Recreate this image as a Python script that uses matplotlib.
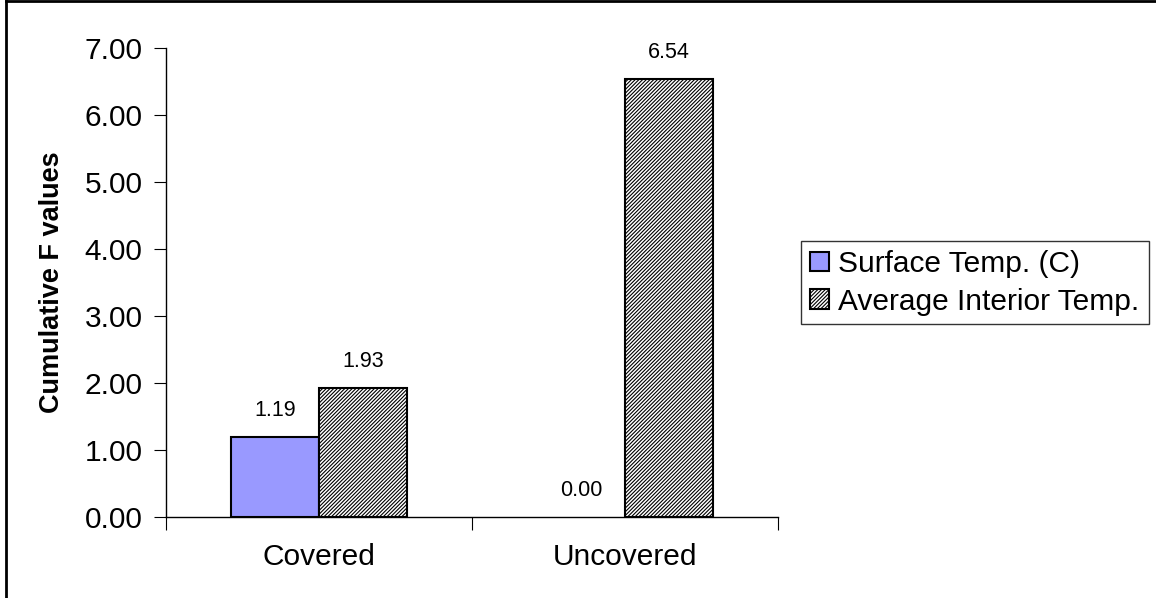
import matplotlib
matplotlib.use("Agg")
import matplotlib.pyplot as plt
from matplotlib.lines import Line2D
from matplotlib.patches import Patch
import numpy as np

plt.rcParams['font.family'] = ['Liberation Sans', 'DejaVu Sans']
plt.rcParams['hatch.color'] = '#505050'
plt.rcParams['hatch.linewidth'] = 0.8

categories = ["Covered", "Uncovered"]
series_names = ["Surface Temp. (C)", "Average Interior Temp."]
surface = [1.19, 0.00]
interior = [1.93, 6.54]
yticks = [0, 1, 2, 3, 4, 5, 6, 7]

HATCH = '/////////'

fig = plt.figure(figsize=(11.56, 5.98), dpi=100)
ax = fig.add_axes([166/1156, 1-517/598, (778-166)/1156, (517-48)/598])

x = np.arange(len(categories))
w = 88/306
b1 = ax.bar(x - w/2, surface, w, color='#9999FF', edgecolor='black', linewidth=1.5, label=series_names[0])
b2 = ax.bar(x + w/2, interior, w, color='white', edgecolor='black', linewidth=1.5, hatch=HATCH, label=series_names[1])
for bars in (b1, b2):
    for r in bars:
        if r.get_height() == 0:
            r.set_linewidth(0)

for xi, v in zip(x - w/2, surface):
    ax.annotate(f"{v:.2f}", (xi, v), xytext=(0, 19), textcoords='offset points', ha='center', va='center', fontsize=15.5)
for xi, v in zip(x + w/2, interior):
    ax.annotate(f"{v:.2f}", (xi, v), xytext=(0, 19), textcoords='offset points', ha='center', va='center', fontsize=15.5)

ax.set_xlim(-0.5, 1.5)
ax.set_ylim(0, 7)
ax.set_yticks(yticks)
ax.set_yticklabels([f"{t:.2f}" for t in yticks], fontsize=21.5)
ax.set_xticks([-0.5, 0.5, 1.5])
ax.set_xticks(x, minor=True)
ax.set_xticklabels([])
ax.set_xticklabels(categories, minor=True, fontsize=21.5)
ax.tick_params(axis='x', which='minor', length=0, pad=19)
ax.tick_params(axis='x', which='major', length=9, direction='out')
ax.tick_params(axis='y', length=9, direction='out', pad=8)
for s in ['top', 'right']:
    ax.spines[s].set_visible(False)
for s in ['left', 'bottom']:
    ax.spines[s].set_color('black')
    ax.spines[s].set_linewidth(1.0)
ax.set_ylabel("Cumulative F values", fontsize=19.5, fontweight='bold', labelpad=14)

handles = [Patch(facecolor='#9999FF', edgecolor='black', linewidth=1.5),
           Patch(facecolor='white', edgecolor='black', linewidth=1.5, hatch=HATCH)]
leg = fig.legend(handles, series_names, loc='upper left', bbox_to_anchor=(801/1156, 1-241/598),
                 fontsize=21.5, frameon=True, fancybox=False, edgecolor='black',
                 handlelength=0.65, handleheight=0.65, handletextpad=0.3, borderpad=0.3,
                 labelspacing=0.32, borderaxespad=0)
leg.get_frame().set_linewidth(1.0)

fig.add_artist(Line2D([6/1156, 6/1156], [0, 1-1/598], transform=fig.transFigure, color='black', linewidth=2))
fig.add_artist(Line2D([6/1156, 1], [1-1/598, 1-1/598], transform=fig.transFigure, color='black', linewidth=2))

fig.savefig("out.png", dpi=100)
